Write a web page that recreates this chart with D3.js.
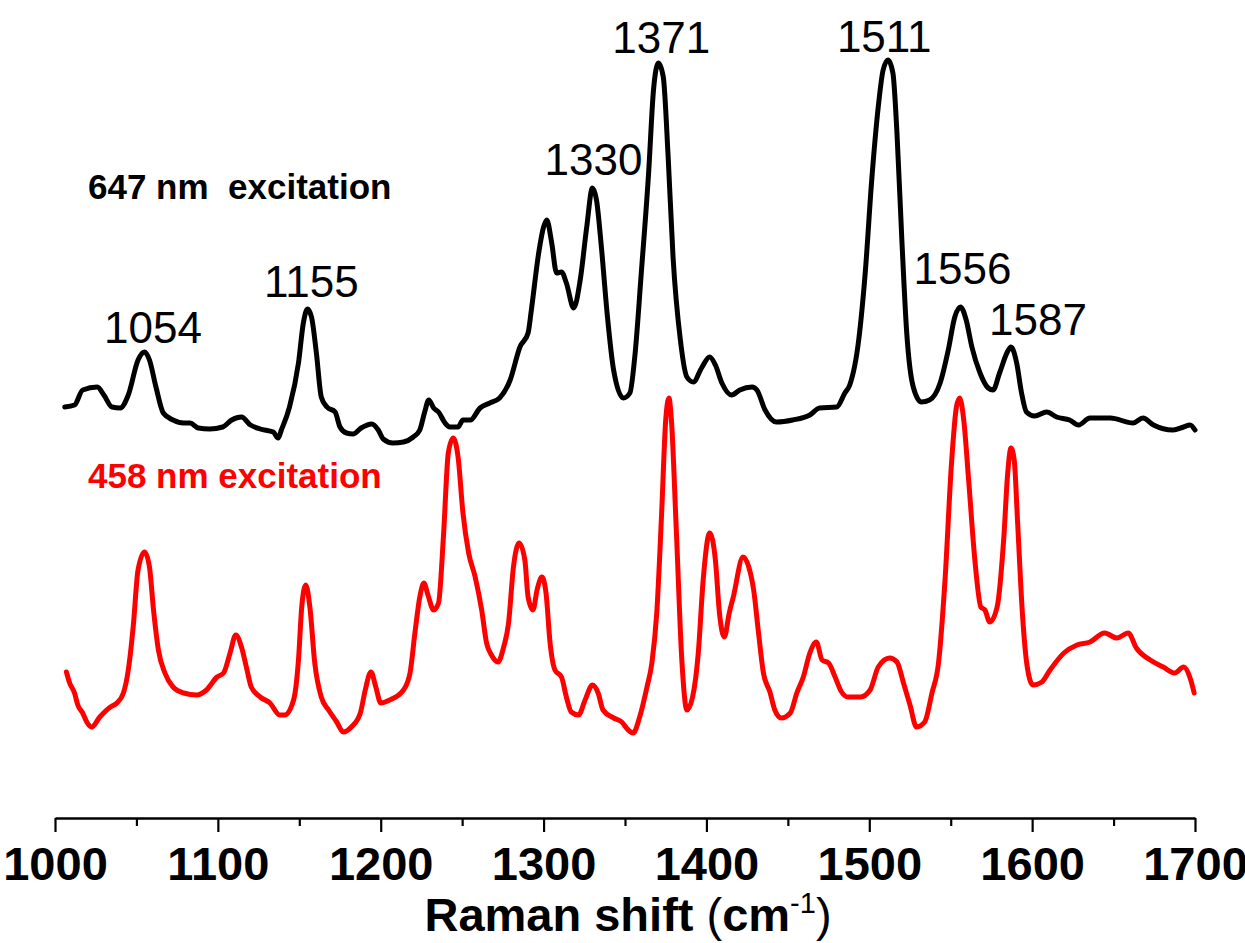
<!DOCTYPE html>
<html>
<head>
<meta charset="utf-8">
<script src="https://cdn.jsdelivr.net/npm/d3@7"></script>
<style>
  html, body { margin: 0; padding: 0; background: #fff; }
  svg { display: block; }
  text { font-family: "Liberation Sans", Arial, Helvetica, sans-serif; }
</style>
</head>
<body>
<svg id="chart" width="1245" height="943"></svg>
<script>
// ---------------- DATA ----------------
// 647 nm excitation spectrum (Raman shift in cm-1, intensity in arbitrary units)
const shift647 = [1006,1012,1017,1026,1030,1035,1040,1045,1051,1055,1058,1062,1066.5,1072.5,1079,1083,1088,1095,1103,1108.5,1114.5,1120,1126,1134,1137,1139,1144,1149.5,1152.5,1155,1157.5,1160.5,1163.5,1167,1172,1175,1179,1183,1188,1194.5,1198.5,1201.5,1207.5,1214,1220,1224,1227,1229.5,1232.5,1235.5,1239.5,1242.5,1247.5,1250.5,1255,1261,1267,1273,1279.5,1285.5,1290.5,1292.5,1297,1300,1302,1305,1308,1311,1314,1318.5,1322.5,1326.5,1330,1332.5,1335.5,1339,1343,1349,1353,1356,1360,1364.5,1367.5,1370.5,1373.5,1376.5,1379.5,1384,1388,1392,1397,1402,1405.5,1409.5,1415.5,1420.5,1428,1431,1436,1443,1453,1463.5,1469.5,1480,1485,1488,1493.5,1497.5,1501.5,1505.5,1508.5,1511.5,1514.5,1517,1520,1523,1527,1532,1537,1543.5,1548.5,1552.5,1556,1559.5,1563,1568,1573,1576,1580,1584.5,1587,1590.5,1593.5,1596.5,1601.5,1609,1615,1623,1628.5,1635.5,1648,1662,1668,1674.5,1686.5,1693,1697,1700];
const int647 = [411,413,428,431,423,411,410,423,458,466,458,431,405,398,395,395,390,389,391,398,401,393,389,386,380,388,411,455,495,509,501,465,421,411,406,391,385,384,390,394,388,379,375,376,381,388,406,418,410,406,395,391,391,398,398,410,415,420,438,471,485,508,565,591,598,575,545,546,535,510,538,591,630,618,571,505,448,420,425,461,545,645,728,755,741,661,561,478,441,436,450,461,453,435,423,428,431,428,408,396,398,403,410,411,425,433,478,545,638,711,748,758,745,685,578,485,431,416,418,435,468,501,511,498,471,445,430,428,445,465,471,455,425,406,402,406,401,398,393,400,400,395,400,393,388,391,393,388];

// 458 nm excitation spectrum
const shift458 = [1007,1009,1012,1014,1017,1019.5,1022.5,1027.5,1034,1038,1042,1045,1048,1051,1055,1058,1060.5,1063.5,1067.5,1072.5,1079,1087,1093,1099.5,1103.5,1107.5,1111,1114.5,1117.5,1120.5,1126,1132,1138,1141,1146.5,1149.5,1151.5,1154,1156.5,1159.5,1163.5,1168,1173,1177,1182,1187.5,1190.5,1194,1197,1200,1205.5,1214,1218,1221,1224,1226.5,1229,1232.5,1235.5,1238.5,1241.5,1244.5,1247.5,1250.5,1254,1258,1262,1265,1268,1272,1275.5,1278.5,1281.5,1285,1288.5,1290.5,1293.5,1296,1299,1301.5,1304,1307,1311,1314,1317,1321.5,1325.5,1330,1333.5,1336.5,1343,1348,1352,1355,1359,1363.5,1366.5,1369.5,1372.5,1375,1377,1378.5,1381.5,1385,1388,1391.5,1395,1398,1402,1405.5,1408,1411,1414,1416.5,1422.5,1426,1429,1432,1435,1439,1442,1446,1451.5,1455.5,1459.5,1463.5,1467.5,1471,1475,1479,1483,1487,1494.5,1500.5,1505.5,1512.5,1517,1521,1525,1529,1534,1538.5,1542.5,1546.5,1550.5,1553.5,1555.5,1558,1561,1565,1568.5,1571,1574,1578.5,1582.5,1585,1587,1589,1591,1594,1597,1600.5,1606,1611,1619.5,1627.5,1635.5,1644.5,1652,1659,1664,1672.5,1680.5,1687.5,1693,1697,1699.5];
const int458 = [146,135,125,113,105,96,91,101,111,115,125,148,191,248,266,251,208,168,145,131,125,123,128,141,145,165,183,171,151,131,121,115,103,103,118,158,211,233,211,155,121,108,96,86,91,105,128,146,131,115,118,128,145,185,221,235,223,208,215,281,365,380,361,305,265,241,208,175,163,156,171,195,251,275,258,221,208,228,241,225,175,148,141,121,106,103,118,133,125,108,100,96,88,85,101,131,155,205,305,398,420,398,288,155,108,121,165,238,285,258,205,181,205,221,261,251,228,185,145,126,108,100,105,125,141,165,176,158,155,141,126,121,121,128,151,160,156,135,113,91,96,125,155,238,355,411,420,398,338,255,211,208,196,211,278,345,370,358,298,205,151,133,136,148,165,173,176,185,180,185,170,158,151,145,151,140,125];

// Peak annotations (647 nm trace)
const peakLabels = ["1054", "1155", "1330", "1371", "1511", "1556", "1587"];
const peakShifts = [1054, 1155, 1330, 1371, 1511, 1556, 1587];

// Axis ticks
const majorTicks = [1000, 1100, 1200, 1300, 1400, 1500, 1600, 1700];
const minorTicks = [1050, 1150, 1250, 1350, 1450, 1550, 1650];

// Series legend texts
const seriesNames = ["647 nm  excitation", "458 nm excitation"];
const seriesColors = ["#000000", "#ff0000"];

// ---------------- DRAW ----------------
const svg = d3.select("#chart");
const axisY = 818;

const x = d3.scaleLinear().domain([1000, 1700]).range([55, 1195]);
const y = d3.scaleLinear().domain([0, 818]).range([818, 0]);

const line = d3.line()
  .x(d => x(d[0]))
  .y(d => y(d[1]))
  .curve(d3.curveMonotoneX);

const series = [
  { data: d3.zip(shift647, int647), color: seriesColors[0] },
  { data: d3.zip(shift458, int458), color: seriesColors[1] }
];

series.forEach(s => {
  svg.append("path")
    .datum(s.data)
    .attr("fill", "none")
    .attr("stroke", s.color)
    .attr("stroke-width", 5)
    .attr("stroke-linejoin", "round")
    .attr("stroke-linecap", "round")
    .attr("d", line);
});

// Peak labels
const labelDx = { "1054": 10, "1155": 4, "1330": 1, "1371": 2, "1511": -3, "1556": 2, "1587": 27 };
const labelGap = { "1054": 9, "1155": 12, "1330": 13, "1371": 10, "1511": 8, "1556": 23, "1587": 12 };
const peakTop = s => {
  let best = -Infinity;
  shift647.forEach((v, i) => { if (Math.abs(v - s) <= 3) best = Math.max(best, int647[i]); });
  return best;
};
svg.append("g").selectAll("text")
  .data(peakLabels)
  .join("text")
  .attr("x", (d, i) => x(peakShifts[i]) + labelDx[d])
  .attr("y", (d, i) => y(peakTop(peakShifts[i])) - labelGap[d])
  .attr("text-anchor", "middle")
  .attr("font-size", 44)
  .attr("fill", "#000")
  .text(d => d);

// Series labels
svg.append("text")
  .attr("x", 88).attr("y", 199)
  .attr("font-size", 35).attr("font-weight", "bold")
  .attr("fill", seriesColors[0])
  .style("white-space", "pre")
  .text(seriesNames[0]);
svg.append("text")
  .attr("x", 88).attr("y", 488)
  .attr("font-size", 35).attr("font-weight", "bold")
  .attr("fill", seriesColors[1])
  .text(seriesNames[1]);

// X axis
const gAxis = svg.append("g").attr("transform", `translate(0,${axisY})`);
gAxis.call(d3.axisBottom(x).tickValues(majorTicks).tickSize(14).tickSizeOuter(0).tickFormat(d3.format("d")));
gAxis.select(".domain").attr("stroke", "#000").attr("stroke-width", 2.5);
gAxis.selectAll(".tick line").attr("stroke", "#000").attr("stroke-width", 2.2);
gAxis.selectAll(".tick text")
  .attr("y", 62).attr("dy", 0)
  .attr("font-size", 47).attr("font-weight", "bold")
  .attr("font-family", "'Liberation Sans', Arial, sans-serif")
  .attr("fill", "#000");

const gMinor = svg.append("g").attr("transform", `translate(0,${axisY})`);
gMinor.call(d3.axisBottom(x).tickValues(minorTicks).tickSize(8).tickFormat(""));
gMinor.select(".domain").remove();
gMinor.selectAll(".tick line").attr("stroke", "#000").attr("stroke-width", 2.2);

// Axis title
const title = svg.append("text")
  .attr("x", 628).attr("y", 931)
  .attr("text-anchor", "middle")
  .attr("font-size", 47)
  .attr("fill", "#000");
title.append("tspan").attr("font-weight", "bold").text("Raman shift ");
title.append("tspan").text("(");
title.append("tspan").attr("font-weight", "bold").text("cm");
title.append("tspan").attr("font-size", 29).attr("dy", -18).text("-1");
title.append("tspan").attr("dy", 18).text(")");
</script>
</body>
</html>
